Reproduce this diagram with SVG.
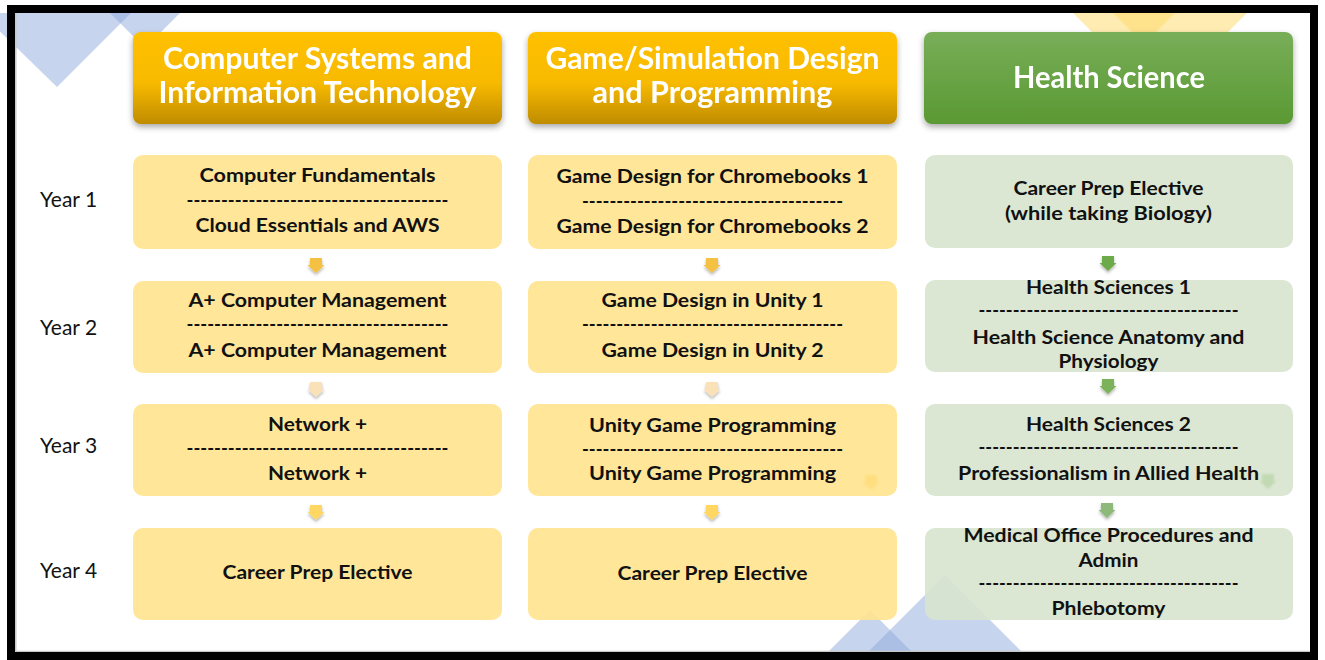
<svg xmlns="http://www.w3.org/2000/svg" width="1325" height="660" viewBox="0 0 1325 660">
<defs>
<linearGradient id="gOrange" x1="0" y1="0" x2="0" y2="1">
<stop offset="0" stop-color="#FFC000"/>
<stop offset="0.55" stop-color="#F8BA00"/>
<stop offset="1" stop-color="#BF8C00"/>
</linearGradient>
<linearGradient id="gGreen" x1="0" y1="0" x2="0" y2="1">
<stop offset="0" stop-color="#78AE58"/>
<stop offset="1" stop-color="#5A9933"/>
</linearGradient>
<filter id="shadow" x="-10%" y="-20%" width="120%" height="150%">
<feDropShadow dx="0" dy="3" stdDeviation="3" flood-color="#000" flood-opacity="0.35"/>
</filter>
<filter id="ashadow" x="-50%" y="-50%" width="200%" height="200%">
<feDropShadow dx="0" dy="2" stdDeviation="1.5" flood-color="#000" flood-opacity="0.3"/>
</filter>
<filter id="soft" x="-50%" y="-50%" width="200%" height="200%">
<feGaussianBlur stdDeviation="1.2"/>
</filter>
<path id="arrow" d="M-6,0 H6 V7 H8.5 L0,15 L-8.5,7 H-6 Z"/>
</defs>
<style>
.hdr{font-family:Lato,"Liberation Sans",sans-serif;font-weight:bold;font-size:30px;fill:#FFFFFF;text-anchor:middle}
.t{font-family:Lato,"Liberation Sans",sans-serif;font-weight:bold;font-size:19.5px;fill:#111111;text-anchor:middle}
.yr{font-family:Lato,"Liberation Sans",sans-serif;font-size:21px;fill:#111111}
.yb{fill:#FFE38E;fill-opacity:0.9}
.gb{fill:#D7E4CE;fill-opacity:0.9}
.blue{fill:#8FAADC;fill-opacity:0.5}
.yel{fill:#FFD966;fill-opacity:0.5}
</style>
<rect x="0" y="0" width="1325" height="660" fill="#FFFFFF"/>

<g id="background">
<polygon class="blue" points="-19,13 131,13 57,87"/>
<polygon class="blue" points="110,13 180,13 145,48"/>
<polygon class="yel" points="1073,13 1175,13 1124,64"/>
<polygon class="yel" points="1113,13 1247,13 1180,80"/>
<polygon class="blue" points="945,575 1022,652 868,652"/>
<polygon class="blue" points="870,610 912,652 828,652"/>
</g>

<g id="headers">
<g id="h1" filter="url(#shadow)">
<rect x="133" y="32" width="369" height="92" rx="8" fill="url(#gOrange)"/>
<text class="hdr" x="317.5" y="69" textLength="309" lengthAdjust="spacingAndGlyphs">Computer Systems and</text>
<text class="hdr" x="317.5" y="103" textLength="318" lengthAdjust="spacingAndGlyphs">Information Technology</text>
</g>
<g id="h2" filter="url(#shadow)">
<rect x="528" y="32" width="369" height="92" rx="8" fill="url(#gOrange)"/>
<text class="hdr" x="712.5" y="69" textLength="334" lengthAdjust="spacingAndGlyphs">Game/Simulation Design</text>
<text class="hdr" x="712.5" y="103" textLength="240" lengthAdjust="spacingAndGlyphs">and Programming</text>
</g>
<g id="h3" filter="url(#shadow)">
<rect x="924" y="32" width="369" height="92" rx="8" fill="url(#gGreen)"/>
<text class="hdr" x="1109" y="88" textLength="192" lengthAdjust="spacingAndGlyphs">Health Science</text>
</g>
</g>

<g id="years">
<text class="yr" x="40" y="207">Year 1</text>
<text class="yr" x="40" y="335">Year 2</text>
<text class="yr" x="40" y="453">Year 3</text>
<text class="yr" x="40" y="578">Year 4</text>
</g>

<g id="connectors">
<use href="#arrow" x="316" y="258" fill="#F5C143" filter="url(#ashadow)"/>
<use href="#arrow" x="316" y="382" fill="#FBE1B8" filter="url(#ashadow)"/>
<use href="#arrow" x="316" y="505" fill="#FFD762" filter="url(#ashadow)"/>
<use href="#arrow" x="712" y="258" fill="#F5C143" filter="url(#ashadow)"/>
<use href="#arrow" x="712" y="382" fill="#FBE1B8" filter="url(#ashadow)"/>
<use href="#arrow" x="712" y="505" fill="#FFD762" filter="url(#ashadow)"/>
<use href="#arrow" x="1108" y="256" fill="#6DAA48" filter="url(#ashadow)"/>
<use href="#arrow" x="1108" y="379" fill="#7BB35A" filter="url(#ashadow)"/>
<use href="#arrow" x="1107" y="503" fill="#8DB97A" filter="url(#ashadow)"/>
</g>

<g id="c1r1"><rect class="yb" x="133" y="155" width="369" height="94" rx="10"/>
<text class="t" x="317.5" y="182" textLength="236" lengthAdjust="spacingAndGlyphs">Computer Fundamentals</text>
<text class="t" x="317.5" y="207" textLength="262" lengthAdjust="spacingAndGlyphs">--------------------------------------</text>
<text class="t" x="317.5" y="232" textLength="244" lengthAdjust="spacingAndGlyphs">Cloud Essentials and AWS</text></g>
<g id="c1r2"><rect class="yb" x="133" y="281" width="369" height="92" rx="10"/>
<text class="t" x="317.5" y="307" textLength="258" lengthAdjust="spacingAndGlyphs">A+ Computer Management</text>
<text class="t" x="317.5" y="331" textLength="262" lengthAdjust="spacingAndGlyphs">--------------------------------------</text>
<text class="t" x="317.5" y="357" textLength="258" lengthAdjust="spacingAndGlyphs">A+ Computer Management</text></g>
<g id="c1r3"><rect class="yb" x="133" y="404" width="369" height="92" rx="10"/>
<text class="t" x="317.5" y="431" textLength="99" lengthAdjust="spacingAndGlyphs">Network +</text>
<text class="t" x="317.5" y="455" textLength="262" lengthAdjust="spacingAndGlyphs">--------------------------------------</text>
<text class="t" x="317.5" y="480" textLength="99" lengthAdjust="spacingAndGlyphs">Network +</text></g>
<g id="c1r4"><rect class="yb" x="133" y="528" width="369" height="92" rx="10"/>
<text class="t" x="317.5" y="579" textLength="190" lengthAdjust="spacingAndGlyphs">Career Prep Elective</text></g>

<g id="c2r1"><rect class="yb" x="528" y="155" width="369" height="94" rx="10"/>
<text class="t" x="712.5" y="183" textLength="312" lengthAdjust="spacingAndGlyphs">Game Design for Chromebooks 1</text>
<text class="t" x="712.5" y="208" textLength="261" lengthAdjust="spacingAndGlyphs">--------------------------------------</text>
<text class="t" x="712.5" y="233" textLength="312" lengthAdjust="spacingAndGlyphs">Game Design for Chromebooks 2</text></g>
<g id="c2r2"><rect class="yb" x="528" y="281" width="369" height="92" rx="10"/>
<text class="t" x="712.5" y="307" textLength="222" lengthAdjust="spacingAndGlyphs">Game Design in Unity 1</text>
<text class="t" x="712.5" y="331" textLength="261" lengthAdjust="spacingAndGlyphs">--------------------------------------</text>
<text class="t" x="712.5" y="357" textLength="222" lengthAdjust="spacingAndGlyphs">Game Design in Unity 2</text></g>
<g id="c2r3"><rect class="yb" x="528" y="404" width="369" height="92" rx="10"/>
<text class="t" x="712.5" y="432" textLength="247" lengthAdjust="spacingAndGlyphs">Unity Game Programming</text>
<text class="t" x="712.5" y="456" textLength="261" lengthAdjust="spacingAndGlyphs">--------------------------------------</text>
<text class="t" x="712.5" y="480" textLength="247" lengthAdjust="spacingAndGlyphs">Unity Game Programming</text>
<use href="#arrow" x="871" y="475" fill="#FFD560" fill-opacity="0.45" filter="url(#soft)"/></g>
<g id="c2r4"><rect class="yb" x="528" y="528" width="369" height="92" rx="10"/>
<text class="t" x="712.5" y="580" textLength="190" lengthAdjust="spacingAndGlyphs">Career Prep Elective</text></g>

<g id="c3r1"><rect class="gb" x="925" y="155" width="368" height="93" rx="10"/>
<text class="t" x="1108.5" y="195" textLength="190" lengthAdjust="spacingAndGlyphs">Career Prep Elective</text>
<text class="t" x="1108.5" y="220" textLength="207" lengthAdjust="spacingAndGlyphs">(while taking Biology)</text></g>
<g id="c3r2"><rect class="gb" x="925" y="280" width="368" height="92" rx="10"/>
<text class="t" x="1108.5" y="294" textLength="165" lengthAdjust="spacingAndGlyphs">Health Sciences 1</text>
<text class="t" x="1108.5" y="317" textLength="260" lengthAdjust="spacingAndGlyphs">--------------------------------------</text>
<text class="t" x="1108.5" y="344" textLength="272" lengthAdjust="spacingAndGlyphs">Health Science Anatomy and</text>
<text class="t" x="1108.5" y="368" textLength="100" lengthAdjust="spacingAndGlyphs">Physiology</text></g>
<g id="c3r3"><rect class="gb" x="925" y="404" width="368" height="92" rx="10"/>
<text class="t" x="1108.5" y="431" textLength="165" lengthAdjust="spacingAndGlyphs">Health Sciences 2</text>
<text class="t" x="1108.5" y="454" textLength="260" lengthAdjust="spacingAndGlyphs">--------------------------------------</text>
<text class="t" x="1108.5" y="480" textLength="301" lengthAdjust="spacingAndGlyphs">Professionalism in Allied Health</text>
<use href="#arrow" x="1268" y="474" fill="#A9CC93" fill-opacity="0.5" filter="url(#soft)"/></g>
<g id="c3r4"><rect class="gb" x="925" y="528" width="368" height="92" rx="10"/>
<text class="t" x="1108.5" y="542" textLength="290" lengthAdjust="spacingAndGlyphs">Medical Office Procedures and</text>
<text class="t" x="1108.5" y="567" textLength="60" lengthAdjust="spacingAndGlyphs">Admin</text>
<text class="t" x="1108.5" y="590" textLength="260" lengthAdjust="spacingAndGlyphs">--------------------------------------</text>
<text class="t" x="1108.5" y="615" textLength="114" lengthAdjust="spacingAndGlyphs">Phlebotomy</text></g>

<g id="frame">
<line x1="16" y1="651.5" x2="1310" y2="651.5" stroke="#C8C8C8" stroke-width="1.5"/>
<line x1="15.8" y1="13" x2="15.8" y2="652" stroke="#C8C8C8" stroke-width="1.5"/>
<rect x="11" y="9" width="1303" height="647" fill="none" stroke="#000000" stroke-width="8"/>
</g>
</svg>
